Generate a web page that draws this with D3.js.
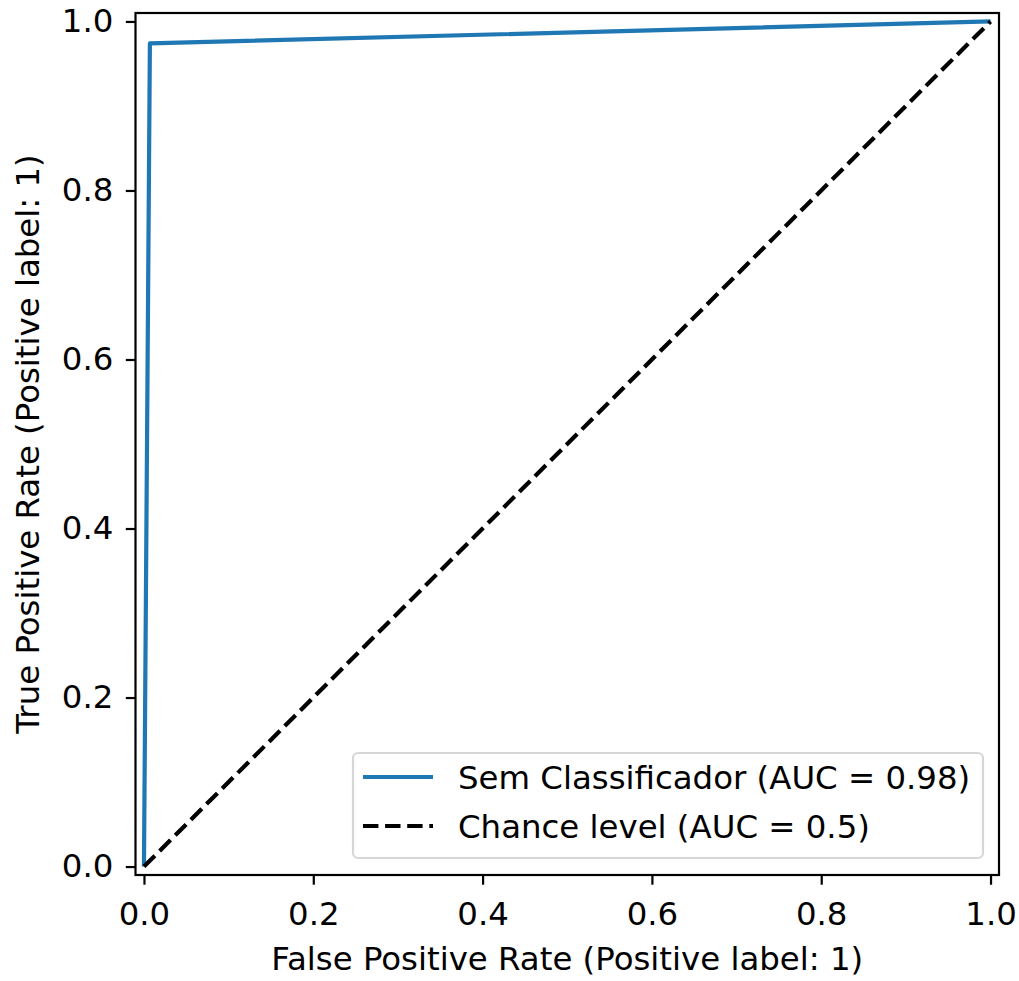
<!DOCTYPE html>
<html>
<head>
<meta charset="utf-8">
<script src="https://cdn.jsdelivr.net/npm/d3@7"></script>
<style>
  body { margin: 0; background: #fff; }
  svg { display: block; font-family: "DejaVu Sans", sans-serif; }
</style>
</head>
<body>
<div id="chart"></div>
<script>
// ROC curve points (fpr, tpr)
const fpr = [0, 0.007, 1];
const tpr = [0, 0.974, 1];
const chanceX = [0, 1];
const chanceY = [0, 1];
const tickValues = [0, 0.2, 0.4, 0.6, 0.8, 1.0];
const legendLabels = ["Sem Classificador (AUC = 0.98)", "Chance level (AUC = 0.5)"];

const width = 1019, height = 981;
const margin = {top: 13, right: 20, bottom: 106, left: 135.5};
const fs = 32.4;

const svg = d3.select("#chart").append("svg").attr("width", width).attr("height", height);

const x = d3.scaleLinear().domain([-0.01, 1.01]).range([margin.left, width - margin.right]);
const y = d3.scaleLinear().domain([-0.01, 1.01]).range([height - margin.bottom, margin.top]);

const xAxis = svg.append("g")
  .attr("transform", `translate(0,${height - margin.bottom})`)
  .call(d3.axisBottom(x).tickValues(tickValues).tickFormat(d3.format(".1f")).tickSize(9.7).tickPadding(17));
const yAxis = svg.append("g")
  .attr("transform", `translate(${margin.left},0)`)
  .call(d3.axisLeft(y).tickValues(tickValues).tickFormat(d3.format(".1f")).tickSize(9.7).tickPadding(12.5));
[xAxis, yAxis].forEach(a => {
  a.select(".domain").remove();
  a.selectAll("line").attr("stroke", "#000").attr("stroke-width", 2.2);
  a.selectAll("text").attr("fill", "#000").style("font-size", fs + "px").style("font-family", "DejaVu Sans");
});

const line = d3.line().x(d => x(d[0])).y(d => y(d[1]));

svg.append("path")
  .datum(d3.zip(fpr, tpr))
  .attr("d", line)
  .attr("fill", "none").attr("stroke", "#1f77b4").attr("stroke-width", 4.2)
  .attr("stroke-linejoin", "round");

svg.append("path")
  .datum(d3.zip(chanceX, chanceY))
  .attr("d", line)
  .attr("fill", "none").attr("stroke", "#000").attr("stroke-width", 4.2)
  .attr("stroke-dasharray", "15.4,6.7");

// frame
svg.append("rect")
  .attr("x", margin.left).attr("y", margin.top)
  .attr("width", width - margin.right - margin.left)
  .attr("height", height - margin.bottom - margin.top)
  .attr("fill", "none").attr("stroke", "#000").attr("stroke-width", 2.2);

// axis labels
svg.append("text")
  .attr("x", (margin.left + width - margin.right) / 2).attr("y", 970)
  .attr("text-anchor", "middle").style("font-size", fs + "px")
  .text("False Positive Rate (Positive label: 1)");
svg.append("text")
  .attr("transform", `translate(38.5,${(margin.top + height - margin.bottom) / 2}) rotate(-90)`)
  .attr("text-anchor", "middle").style("font-size", fs + "px")
  .text("True Positive Rate (Positive label: 1)");

// legend
const lg = svg.append("g");
lg.append("rect")
  .attr("x", 353).attr("y", 753).attr("width", 630).attr("height", 105)
  .attr("rx", 5).attr("fill", "#fff").attr("fill-opacity", 0.8)
  .attr("stroke", "#d6d6d6").attr("stroke-width", 2.2);
const rows = [
  {label: legendLabels[0], color: "#1f77b4", dash: null, yy: 777},
  {label: legendLabels[1], color: "#000", dash: "15.4,6.7", yy: 826}
];
rows.forEach(r => {
  lg.append("line").attr("x1", 363).attr("x2", 433).attr("y1", r.yy).attr("y2", r.yy)
    .attr("stroke", r.color).attr("stroke-width", 4.2).attr("stroke-dasharray", r.dash);
  lg.append("text").attr("x", 458).attr("y", r.yy).attr("dy", "0.36em")
    .style("font-size", fs + "px").text(r.label);
});
</script>
</body>
</html>
